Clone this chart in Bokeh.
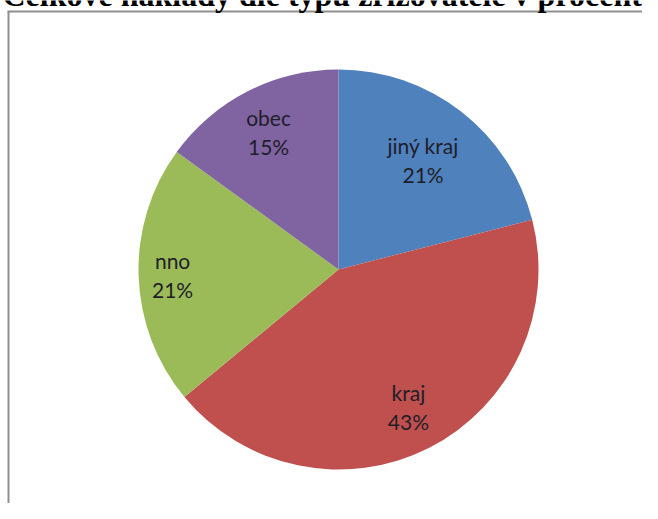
import numpy as np
from bokeh.plotting import figure
from bokeh.models import Range1d, Label, ColumnDataSource
from bokeh.core.properties import value
from bokeh.embed import file_html
from bokeh.resources import INLINE

# ---- data ----
title_text = "Celkové náklady dle typu zřizovatele v procentech"
categories = ["jiný kraj", "kraj", "nno", "obec"]
shares = [21, 43, 21, 15]
colors = ["#4F81BD", "#C0504D", "#9BBB59", "#8064A2"]

# ---- layout (data units == picture pixels, y measured up from picture bottom) ----
PAGE_H = 519
W, H = 642, 503
CX, CY, R = 338, PAGE_H - 269, 200
label_r = [0.69, 0.77, 0.83, 0.77]
line_gap = 14.5
BORDER_X, BORDER_Y = 8, 11

p = figure(width=W, height=H, output_backend="svg", toolbar_location=None,
           x_range=Range1d(0, W),
           y_range=Range1d(PAGE_H - H, PAGE_H),
           x_axis_type=None, y_axis_type=None,
           min_border=0, min_border_left=0, min_border_right=0,
           min_border_top=0, min_border_bottom=0)
p.grid.visible = False
p.outline_line_color = None
p.background_fill_color = "white"
p.border_fill_color = "white"

p.add_layout(Label(x=2, y=PAGE_H + 6, text=title_text,
                   text_font="Liberation Serif", text_font_style="bold",
                   text_font_size="32px", text_color="black",
                   text_baseline="alphabetic", text_align="left"))

# chart-area border (left and top edges visible in the crop)
p.multi_line(xs=[[BORDER_X, BORDER_X], [BORDER_X - 1, W + 20]],
             ys=[[0, PAGE_H - BORDER_Y], [PAGE_H - BORDER_Y, PAGE_H - BORDER_Y]],
             line_color="#8f8f8f", line_width=2)

frac = np.array(shares, dtype=float) / sum(shares)
cum = np.cumsum(frac)
before = cum - frac
start = np.pi / 2 - 2 * np.pi * before
end = np.pi / 2 - 2 * np.pi * cum
mid = (start + end) / 2

src = ColumnDataSource(dict(start=start, end=end, color=colors, cat=categories))
p.wedge(x=CX, y=CY, radius=R, start_angle="start", end_angle="end",
        direction="clock", fill_color="color", line_color=None, source=src)

lx = CX + R * np.array(label_r) * np.cos(mid)
ly = CY + R * np.array(label_r) * np.sin(mid)
pct = [f"{s}%" for s in shares]
lab = ColumnDataSource(dict(x=lx, y1=ly + line_gap, y2=ly - line_gap,
                            name=categories, pct=pct))
for col in ("y1", "y2"):
    p.text(x="x", y=col, text="name" if col == "y1" else "pct", source=lab,
           text_font=value("Lato"), text_font_size="21px",
           text_color="#1e1e28", text_align="center", text_baseline="middle")

open("out.html", "w").write(file_html(p, INLINE))
